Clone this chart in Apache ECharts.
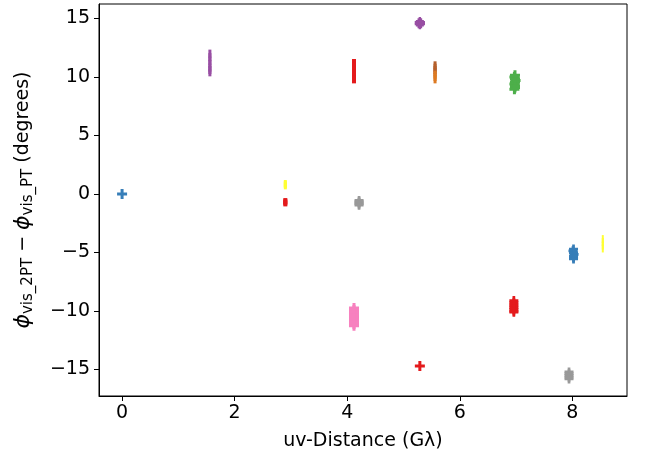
<!DOCTYPE html>
<html>
<head>
<meta charset="utf-8">
<script src="https://cdn.jsdelivr.net/npm/echarts@6/dist/echarts.min.js"></script>
<style>
  html, body { margin: 0; padding: 0; background: #fff; }
  #main { width: 645px; height: 459px; }
</style>
</head>
<body>
<div id="main"></div>
<script>
// tick labels
var xTicks = [0, 2, 4, 6, 8];
var yTicks = [-15, -10, -5, 0, 5, 10, 15];

// clusters of [uv-distance, phase difference]
var blueZero = [[0.00, 0.00]];
var purpleTall = [[1.56, 12.0], [1.56, 11.7], [1.56, 11.4], [1.56, 11.1], [1.56, 10.8], [1.56, 10.6], [1.56, 10.4]];
var yellowLow = [[2.90, 0.9], [2.90, 0.8], [2.90, 0.7]];
var redLow = [[2.90, -0.6], [2.90, -0.7], [2.90, -0.8]];
var greyMid = [[4.21, -0.55], [4.21, -0.65], [4.21, -0.75], [4.21, -0.85], [4.21, -0.95]];
var redTall = [[4.12, 11.2], [4.12, 10.9], [4.12, 10.6], [4.12, 10.3], [4.12, 10.0], [4.12, 9.8]];
var purpleBlob = [[5.29, 14.78], [5.27, 14.68], [5.31, 14.68], [5.28, 14.6], [5.30, 14.6], [5.27, 14.52], [5.31, 14.52], [5.29, 14.42]];
var brownTall = [[5.56, 11.0], [5.56, 10.8], [5.56, 10.6], [5.56, 10.4]];
var orangeTall = [[5.56, 10.2], [5.56, 10.0], [5.56, 9.8]];
var greenBlob = [[6.98, 10.15], [6.97, 10.0], [6.98, 9.85], [6.99, 9.7], [6.98, 9.55], [6.97, 9.4], [6.98, 9.25], [6.98, 9.1], [6.97, 8.95]];
var blueBlob = [[8.02, -4.7], [8.01, -4.85], [8.02, -5.0], [8.03, -5.15], [8.02, -5.3], [8.02, -5.45], [8.02, -5.55]];
var yellowTall = [[8.54, -3.85], [8.54, -4.1], [8.54, -4.4], [8.54, -4.65]];
var pinkBlob = [[4.12, -9.75], [4.12, -9.9], [4.12, -10.05], [4.12, -10.2], [4.12, -10.35], [4.12, -10.5], [4.12, -10.65], [4.12, -10.8], [4.12, -10.95], [4.12, -11.1], [4.12, -11.25]];
var redCross = [[5.29, -14.7]];
var redBlob = [[6.96, -9.1], [6.96, -9.25], [6.96, -9.4], [6.96, -9.55], [6.96, -9.7], [6.96, -9.85], [6.96, -10.0], [6.96, -10.1]];
var greyLow = [[7.94, -15.2], [7.94, -15.35], [7.94, -15.5], [7.94, -15.65], [7.94, -15.8]];

var plus = 'path://M3.5,0H6.5V3.5H10V6.5H6.5V10H3.5V6.5H0V3.5H3.5Z';

function cluster(data, color, size, symbol) {
    return {
        type: 'scatter',
        data: data,
        symbol: symbol || plus,
        symbolSize: size,
        symbolKeepAspect: false,
        itemStyle: { color: color, opacity: 1 },
        emphasis: { disabled: true },
        silent: true
    };
}

function minusSign(v) {
    return String(v).replace('-', '\u2212');
}

var chart = echarts.init(document.getElementById('main'));

var option = {
    animation: false,
    textStyle: { fontFamily: 'DejaVu Sans' },
    grid: {
        left: 99, right: 18, top: 4, bottom: 63,
        show: true, borderColor: '#000', borderWidth: 1
    },
    xAxis: {
        type: 'value',
        min: -0.41, max: 8.97,
        name: 'uv-Distance (G\u03bb)',
        nameLocation: 'middle',
        nameGap: 36,
        nameTextStyle: { fontSize: 19, color: '#000' },
        splitLine: { show: false },
        axisLine: { show: true, onZero: false, lineStyle: { color: '#000', width: 1 } },
        axisTick: { show: true, length: 5, lineStyle: { color: '#000' }, customValues: xTicks },
        axisLabel: { fontSize: 19, color: '#000', margin: 8, customValues: xTicks, formatter: minusSign }
    },
    yAxis: {
        type: 'value',
        min: -17.26, max: 16.24,
        name: '{p|\u03d5}{s|vis_2PT} \u2212 {p|\u03d5}{s|vis_PT} (degrees)',
        nameLocation: 'middle',
        nameGap: 63,
        nameTextStyle: {
            fontSize: 19, color: '#000',
            rich: {
                p: { fontSize: 22, fontStyle: 'italic', color: '#000' },
                s: { fontSize: 15, color: '#000', padding: [10, 0, 0, 0] }
            }
        },
        splitLine: { show: false },
        axisLine: { show: true, onZero: false, lineStyle: { color: '#000', width: 1 } },
        axisTick: { show: true, length: 5, lineStyle: { color: '#000' }, customValues: yTicks },
        axisLabel: { fontSize: 19, color: '#000', margin: 9, customValues: yTicks, formatter: minusSign }
    },
    series: [
        cluster(blueZero, '#377eb8', 10),
        cluster(purpleTall, '#984ea3', [3, 8], 'rect'),
        cluster(yellowLow, '#ffff33', [3, 7], 'rect'),
        cluster(redLow, '#e41a1c', [4, 6], 'rect'),
        cluster(greyMid, '#999999', 9),
        cluster(redTall, '#e41a1c', [4, 8], 'rect'),
        cluster(purpleBlob, '#984ea3', 8),
        cluster(brownTall, '#b5602c', [3, 8], 'rect'),
        cluster(orangeTall, '#dd7a22', [3, 8], 'rect'),
        cluster(greenBlob, '#4daf4a', 10),
        cluster(blueBlob, '#377eb8', 9),
        cluster(yellowTall, '#ffff33', [2, 8], 'rect'),
        cluster(pinkBlob, '#f781bf', 10),
        cluster(redCross, '#e41a1c', 10),
        cluster(redBlob, '#e41a1c', 9),
        cluster(greyLow, '#999999', 9)
    ]
};

chart.setOption(option);
</script>
</body>
</html>
